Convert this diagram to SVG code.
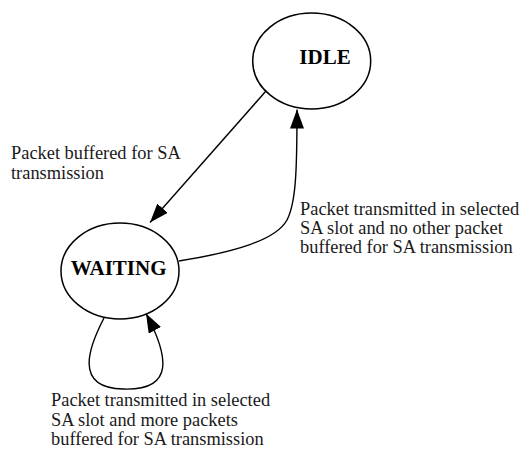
<svg xmlns="http://www.w3.org/2000/svg" width="523" height="450" viewBox="0 0 523 450">
<style>
.node{fill:#fff;stroke:#000;stroke-width:1.5}
.name{font-family:"Liberation Serif","Times New Roman",serif;font-weight:bold;font-size:21px;fill:#000}
.lbl{font-family:"Liberation Serif","Times New Roman",serif;font-size:18.4px;fill:#1a1a1a}
.edge{fill:none;stroke:#000;stroke-width:1.4}
</style>
<defs>
<marker id="arr" viewBox="0 0 19 14" refX="19" refY="7" markerWidth="19" markerHeight="14" markerUnits="userSpaceOnUse" orient="auto">
<path d="M0,0 L19,7 L0,14 z" fill="#000"/>
</marker>
</defs>
<g id="idle">
<ellipse class="node" cx="311.7" cy="61" rx="59" ry="48"/>
<text class="name" x="325" y="64" text-anchor="middle">IDLE</text>
</g>
<g id="waiting">
<ellipse class="node" cx="120" cy="271" rx="59" ry="48"/>
<text class="name" x="118.7" y="275" text-anchor="middle">WAITING</text>
</g>
<g id="connectors">
<path class="edge" d="M266,91 L150,222.5" marker-end="url(#arr)"/>
<path class="edge" d="M179,261 C235,252 276,240 287,220 C296,203 297,170 297,109.5" marker-end="url(#arr)"/>
<path class="edge" d="M104,318 C90,345 72,388 123,389 C176,391 168,355 146,313.5" marker-end="url(#arr)"/>
</g>
<g id="labels">
<text class="lbl" x="11" y="159">Packet buffered for SA</text>
<text class="lbl" x="11" y="178.5">transmission</text>
<text class="lbl" x="300" y="215">Packet transmitted in selected</text>
<text class="lbl" x="300" y="234">SA slot and no other packet</text>
<text class="lbl" x="300" y="253">buffered for SA transmission</text>
<text class="lbl" x="51" y="406">Packet transmitted in selected</text>
<text class="lbl" x="51" y="425.5">SA slot and more packets</text>
<text class="lbl" x="51" y="445">buffered for SA transmission</text>
</g>
</svg>
